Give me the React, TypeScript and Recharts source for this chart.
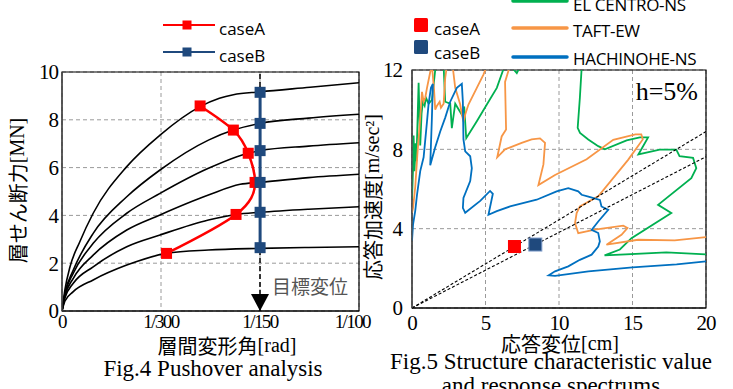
import React from 'react';
import {
  ComposedChart,
  Line,
  Scatter,
  XAxis,
  YAxis,
  CartesianGrid,
  ReferenceLine,
  ReferenceDot,
  ReferenceArea,
} from 'recharts';

// ---- Fig.4 pushover: [drift (x1/1000 rad), story shear (MN)] ----
const story1 = [[0, 0], [0.1, 0.9], [0.27, 1.85], [0.6, 2.9], [1.05, 4.09], [2.18, 6.04], [3.3, 7.36], [4.65, 8.55], [5.3, 8.9], [5.77, 9.05], [6.67, 9.17], [8.35, 9.36], [10, 9.55]];
const story2 = [[0, 0], [0.1, 0.75], [0.38, 1.71], [1.05, 3.25], [2.18, 4.78], [3.3, 5.9], [4.93, 7.15], [5.77, 7.57], [6.67, 7.85], [8.3, 8.07], [10, 8.23]];
const story3 = [[0, 0], [0.1, 0.7], [0.38, 1.58], [1.05, 2.83], [2.18, 4.09], [3.3, 4.92], [4.93, 5.97], [6.27, 6.6], [6.67, 6.71], [8.3, 6.9], [10, 7.04]];
const story4 = [[0, 0], [0.1, 0.62], [0.38, 1.37], [1.05, 2.34], [2.18, 3.39], [3.3, 4.02], [4.93, 4.85], [6.0, 5.3], [6.67, 5.38], [8.3, 5.58], [10, 5.72]];
const story5 = [[0, 0], [0.1, 0.55], [0.38, 1.16], [1.05, 1.85], [2.18, 2.69], [3.3, 3.18], [4.93, 3.81], [5.86, 4.04], [6.67, 4.13], [8.3, 4.26], [10, 4.36]];
const story6 = [[0, 0], [0.1, 0.42], [0.38, 0.81], [1.05, 1.3], [2.18, 1.92], [3.52, 2.41], [4.93, 2.55], [6.67, 2.62], [8.3, 2.66], [10, 2.69]];
const pushCaseA = [[3.52, 2.41], [5.86, 4.04], [6.5, 5.38], [6.27, 6.6], [5.77, 7.57], [4.65, 8.58]];
const pushCaseB = [[6.67, 2.65], [6.67, 4.13], [6.67, 5.38], [6.67, 6.71], [6.67, 7.85], [6.67, 9.15]];
const targetDrift = 20 / 3;
const driftTicks = [0, 10 / 3, 20 / 3, 10];
const driftTickLabels = ['0', '1/300', '1/150', '1/100'];
const shearTicks = [0, 2, 4, 6, 8, 10];

// ---- Fig.5 response spectra: [Sd (cm), Sa (m/sec2)] ----
const elCentro = [[0, 5.5], [0.08, 7.2], [0.11, 8.7], [0.17, 6.9], [0.25, 8.3], [0.3, 7.4], [0.45, 11.35], [0.56, 8.2], [0.65, 9.8], [0.74, 10.4], [0.86, 10.2], [0.95, 10.6], [1.13, 10.3], [1.36, 10.5], [1.58, 12.0], [1.8, 12.8], [2.15, 12.2], [2.26, 10.4], [2.6, 10.3], [2.71, 9.07], [2.94, 10.3], [3.39, 9.74], [3.55, 10.16], [3.69, 8.56], [4.41, 9.42], [5.09, 10.26], [5.77, 11.1], [6.2, 12.0], [6.6, 12.3], [7.13, 11.84], [7.5, 12.4], [9.5, 14.5], [11.6, 13.0], [11.54, 12.1], [11.42, 10.6], [11.27, 9.08], [11.43, 8.83], [11.99, 8.5], [12.67, 8.16], [13.12, 8.0], [14.6, 8.45], [15.5, 8.6], [16.06, 8.6], [15.4, 7.74], [16.85, 7.99], [17.98, 7.99], [18.2, 7.66], [19.12, 7.57], [19.34, 7.05], [19.0, 6.55], [16.74, 5.2], [17.64, 4.79], [14.93, 3.52], [14.14, 2.95], [13.1, 2.65], [17.3, 2.8], [20, 2.7]];
const taft = [[0, 4.8], [0.07, 5.05], [0.22, 6.1], [0.38, 7.9], [0.5, 9.0], [0.68, 10.9], [0.79, 10.4], [0.9, 10.6], [1.02, 11.1], [1.24, 11.9], [1.36, 12.2], [1.5, 11.0], [1.58, 10.0], [1.7, 10.2], [1.88, 10.4], [1.97, 10.1], [2.15, 10.3], [2.26, 11.6], [2.45, 12.6], [2.7, 12.6], [2.94, 11.1], [3.28, 10.26], [3.39, 9.76], [3.5, 9.4], [3.62, 9.76], [3.84, 10.26], [4.41, 11.1], [4.86, 11.77], [5.2, 12.4], [6.0, 13.2], [6.7, 12.3], [6.33, 11.4], [6.4, 9.0], [6.1, 8.65], [5.8, 7.6], [6.33, 8.0], [7.46, 8.33], [8.14, 8.5], [8.71, 8.55], [9.05, 8.33], [8.94, 7.24], [8.6, 6.2], [9.73, 6.71], [11.88, 7.5], [13.69, 8.48], [15.2, 8.75], [15.6, 8.75], [15.7, 8.5], [14.7, 7.47], [12.67, 5.63], [11.42, 5.12], [11.2, 4.79], [11.09, 4.28], [11.31, 3.77], [12.44, 3.95], [14.37, 4.15], [14.66, 4.03], [14.25, 3.69], [13.23, 3.19], [15.38, 3.44], [17.87, 3.41], [20, 3.57]];
const hachinohe = [[0, 3.4], [0.07, 4.2], [0.22, 4.9], [0.34, 5.7], [0.56, 6.9], [0.79, 7.6], [1.02, 9.4], [1.13, 10.3], [1.29, 11.1], [1.42, 11.3], [1.35, 9.5], [1.24, 7.2], [1.58, 8.1], [1.92, 8.9], [2.26, 9.6], [2.6, 10.4], [3.05, 11.1], [3.39, 11.3], [3.46, 10.4], [3.5, 8.5], [3.62, 7.9], [3.96, 7.65], [4.07, 7.05], [3.96, 6.4], [3.5, 5.55], [3.46, 5.05], [3.62, 4.8], [4.64, 5.4], [5.31, 5.9], [5.5, 5.76], [5.2, 4.7], [5.77, 4.88], [6.67, 5.12], [8.48, 5.46], [9.84, 5.88], [10.63, 6.04], [11.31, 5.88], [11.54, 5.71], [12.0, 5.62], [12.78, 5.45], [12.89, 5.12], [13.35, 4.95], [12.67, 4.36], [12.22, 3.94], [12.67, 3.78], [12.78, 3.36], [12.67, 3.1], [12.22, 2.69], [11.42, 2.43], [10.63, 2.1], [9.73, 1.85], [9.3, 1.65], [9.73, 1.62], [12, 1.85], [15, 2.05], [18, 2.2], [20, 2.35]];
const perfCaseA = [[6.97, 3.1]];
const perfCaseB = [[8.39, 3.2]];
const sdTicks = [0, 5, 10, 15, 20];
const saTicks = [0, 4, 8, 12];

const toXY = (pts: number[][]) => pts.map(([x, y]) => ({ x, y }));

const SERIF = '"Liberation Serif", "Times New Roman", serif';
const JP = '"Noto Sans CJK JP", sans-serif';
const SANS = '"Open Sans", sans-serif';
const RED = '#ff0000';
const NAVY = '#1f497d';
const GREEN = '#00b050';
const ORANGE = '#f79646';
const BLUE = '#0070c0';

const squareDot = (size: number, fill: string, stroke = 'none') => (props: any) => {
  const { cx, cy, index } = props;
  if (cx == null || cy == null) return <g key={index} />;
  return (
    <rect key={index} x={cx - size / 2} y={cy - size / 2} width={size} height={size} fill={fill} stroke={stroke} strokeWidth={1} />
  );
};

// axis title with japanese part + serif unit part
const axisTitle = (text: string, unit: React.ReactNode, vertical: boolean, dx: number, dy: number) => (props: any) => {
  const { x, y, width, height } = props.viewBox;
  const cx = vertical ? x + dx : x + width / 2 + dx;
  const cy = vertical ? y + height / 2 + dy : y + dy;
  return (
    <text
      x={cx}
      y={cy}
      textAnchor="middle"
      dominantBaseline="central"
      fill="#000"
      style={{ fontSize: 20 }}
      transform={vertical ? `rotate(-90 ${cx} ${cy})` : undefined}
    >
      <tspan style={{ fontFamily: JP }}>{text}</tspan>
      <tspan style={{ fontFamily: SERIF }}>{unit}</tspan>
    </text>
  );
};

const PushoverChart = () => {
  const curves = [story1, story2, story3, story4, story5, story6];
  return (
    <ComposedChart width={370} height={389} margin={{ top: 72, right: 11, bottom: 48, left: 22 }}>
      <CartesianGrid stroke="#9a9a9a" strokeDasharray="4 3" />
      <XAxis
        type="number"
        dataKey="x"
        domain={[0, 10]}
        ticks={driftTicks}
        tickFormatter={(v: number) => driftTickLabels[driftTicks.indexOf(v)]}
        allowDataOverflow
        height={30}
        tickLine={false}
        tickSize={2}
        axisLine={{ stroke: '#000', strokeWidth: 1.2 }}
        tick={{ fill: '#000', fontSize: 19, letterSpacing: -1.6 }}
        label={axisTitle('層間変形角', '[rad]', false, 16.5, 34)}
      />
      <YAxis
        type="number"
        dataKey="y"
        domain={[0, 10]}
        ticks={shearTicks}
        allowDataOverflow
        width={40}
        tickLine={false}
        tickSize={2}
        axisLine={{ stroke: '#555', strokeWidth: 1.2 }}
        tick={{ fill: '#000', fontSize: 21, letterSpacing: -1 }}
        label={axisTitle('層せん断力', '[MN]', true, -5, -1)}
      />
      {curves.map((c, i) => (
        <Line
          key={i}
          data={toXY(c)}
          dataKey="y"
          type="monotone"
          stroke="#000"
          strokeWidth={1.6}
          dot={false}
          isAnimationActive={false}
        />
      ))}
      <ReferenceLine
        x={targetDrift}
        stroke="#000"
        strokeWidth={1.5}
        strokeDasharray="5 3"
        label={(p: any) => (
          <text
            x={p.viewBox.x + 12}
            y={p.viewBox.y + p.viewBox.height - 26}
            dominantBaseline="central"
            fill="#555"
            style={{ fontSize: 19, fontFamily: JP }}
          >
            目標変位
          </text>
        )}
      />
      <ReferenceDot
        x={targetDrift}
        y={0}
        r={0}
        shape={(p: any) => (
          <polygon points={`${p.cx - 9},${p.cy - 17} ${p.cx + 9},${p.cy - 17} ${p.cx},${p.cy}`} fill="#000" />
        )}
      />
      <Line
        data={toXY(pushCaseA)}
        dataKey="y"
        type="natural"
        stroke={RED}
        strokeWidth={2.5}
        dot={squareDot(11, RED)}
        isAnimationActive={false}
      />
      <Line
        data={toXY(pushCaseB)}
        dataKey="y"
        type="linear"
        stroke={NAVY}
        strokeWidth={3}
        dot={squareDot(11, NAVY)}
        isAnimationActive={false}
      />
      <ReferenceArea x1={0} x2={10} y1={0} y2={10} fill="none" stroke="#000" strokeWidth={1.2} />
    </ComposedChart>
  );
};

const SpectrumChart = () => {
  const spectra = [
    { pts: elCentro, color: GREEN },
    { pts: taft, color: ORANGE },
    { pts: hachinohe, color: BLUE },
  ];
  const slopeA = perfCaseA[0][1] / perfCaseA[0][0];
  const slopeB = perfCaseB[0][1] / perfCaseB[0][0];
  return (
    <ComposedChart width={363} height={389} margin={{ top: 70, right: 27, bottom: 51, left: 12 }}>
      <CartesianGrid stroke="#9a9a9a" strokeDasharray="4 3" />
      <XAxis
        type="number"
        dataKey="x"
        domain={[0, 20]}
        ticks={sdTicks}
        allowDataOverflow
        height={30}
        tickLine={false}
        tickSize={5}
        axisLine={{ stroke: '#000', strokeWidth: 1.2 }}
        tick={{ fill: '#000', fontSize: 21, letterSpacing: -1 }}
        label={axisTitle('応答変位', '[cm]', false, 1, 35)}
      />
      <YAxis
        type="number"
        dataKey="y"
        domain={[0, 12]}
        ticks={saTicks}
        allowDataOverflow
        width={30}
        tickLine={false}
        tickSize={8}
        axisLine={{ stroke: '#555', strokeWidth: 1.2 }}
        tick={{ fill: '#000', fontSize: 21, letterSpacing: -1 }}
        label={axisTitle('応答加速度', '[m/sec²]', true, -10, 8)}
      />
      {spectra.map((s, i) => (
        <Line
          key={i}
          data={toXY(s.pts)}
          dataKey="y"
          type="linear"
          stroke={s.color}
          strokeWidth={1.8}
          dot={false}
          isAnimationActive={false}
        />
      ))}
      <ReferenceLine segment={[{ x: 0, y: 0 }, { x: 20, y: 20 * slopeA }]} stroke="#000" strokeWidth={1.1} strokeDasharray="3 2" />
      <ReferenceLine segment={[{ x: 0, y: 0 }, { x: 20, y: 20 * slopeB }]} stroke="#000" strokeWidth={1.1} strokeDasharray="3 2" />
      <Scatter
        data={toXY(perfCaseA)}
        fill={RED}
        isAnimationActive={false}
        shape={(p: any) => <rect x={p.cx - 6.5} y={p.cy - 6.5} width={13} height={13} fill={RED} />}
      />
      <Scatter
        data={toXY(perfCaseB)}
        fill={NAVY}
        isAnimationActive={false}
        shape={(p: any) => <rect x={p.cx - 6.5} y={p.cy - 6.5} width={13} height={13} fill={NAVY} stroke="#7d9bc9" />}
      />
      <ReferenceDot
        x={20}
        y={12}
        r={0}
        fill="none"
        stroke="none"
        label={(p: any) => (
          <text x={p.viewBox.x - 8} y={p.viewBox.y + 30} textAnchor="end" fill="#000" style={{ fontSize: 26, fontFamily: SERIF }}>
            h=5%
          </text>
        )}
      />
      <ReferenceArea x1={0} x2={20} y1={0} y2={12} fill="none" stroke="#000" strokeWidth={1.2} />
    </ComposedChart>
  );
};

const legendText: React.CSSProperties = { fontFamily: SANS, fontSize: 17 };
const legendWide: React.CSSProperties = { ...legendText, letterSpacing: -0.3 };

const Legends = () => (
  <svg width={733} height={389} style={{ position: 'absolute', left: 0, top: 0, pointerEvents: 'none' }}>
    {/* Fig.4 legend */}
    <line x1={163} x2={215} y1={25} y2={25} stroke={RED} strokeWidth={2} />
    <rect x={182.5} y={20.5} width={9} height={9} fill={RED} />
    <text x={219} y={28} dominantBaseline="central" fill="#000" style={legendText}>caseA</text>
    <line x1={163} x2={215} y1={52} y2={52} stroke={NAVY} strokeWidth={2} />
    <rect x={182.5} y={47.5} width={9} height={9} fill={NAVY} />
    <text x={219} y={55} dominantBaseline="central" fill="#000" style={legendText}>caseB</text>
    {/* Fig.5 legend */}
    <rect x={414} y={18} width={14} height={14} rx={1.5} fill={RED} />
    <text x={434} y={28} dominantBaseline="central" fill="#000" style={legendText}>caseA</text>
    <rect x={414} y={40} width={14} height={14} rx={1.5} fill={NAVY} />
    <text x={434} y={52} dominantBaseline="central" fill="#000" style={legendText}>caseB</text>
    <line x1={513} x2={567} y1={1} y2={1} stroke={GREEN} strokeWidth={3.5} strokeLinecap="round" />
    <text x={573} y={4} dominantBaseline="central" fill="#000" style={legendWide}>EL CENTRO-NS</text>
    <line x1={513} x2={567} y1={28} y2={28} stroke={ORANGE} strokeWidth={3.5} strokeLinecap="round" />
    <text x={573} y={30} dominantBaseline="central" fill="#000" style={legendWide}>TAFT-EW</text>
    <line x1={513} x2={567} y1={57} y2={57} stroke={BLUE} strokeWidth={3.5} strokeLinecap="round" />
    <text x={573} y={58} dominantBaseline="central" fill="#000" style={legendWide}>HACHINOHE-NS</text>
  </svg>
);

const captionStyle: React.CSSProperties = {
  position: 'absolute',
  fontFamily: SERIF,
  fontSize: 23,
  lineHeight: '24px',
  textAlign: 'center',
  color: '#000',
  whiteSpace: 'nowrap',
};

const css = `
.recharts-surface{overflow:visible}
.recharts-cartesian-axis-tick-value{font-family:"Liberation Serif","Times New Roman",serif}
`;

export default function App() {
  return (
    <div
      style={{
        position: 'absolute',
        left: 0,
        top: 0,
        width: 733,
        height: 389,
        overflow: 'hidden',
        background: '#fff',
      }}
    >
      <style>{css}</style>
      <div style={{ position: 'absolute', left: 0, top: 0 }}>
        <PushoverChart />
      </div>
      <div style={{ position: 'absolute', left: 370, top: 0 }}>
        <SpectrumChart />
      </div>
      <Legends />
      <div style={{ ...captionStyle, left: 0, top: 357, width: 426 }}>Fig.4 Pushover analysis</div>
      <div style={{ ...captionStyle, left: 380, top: 350, width: 342 }}>
        Fig.5 Structure characteristic value
        <br />
        and response spectrums
      </div>
    </div>
  );
}
